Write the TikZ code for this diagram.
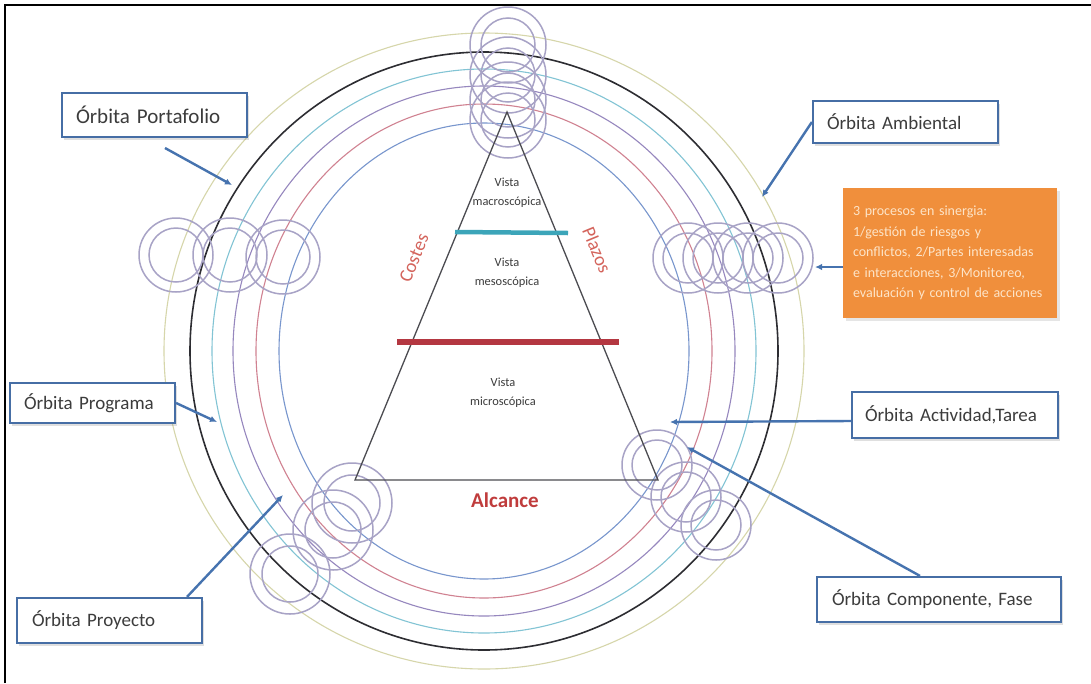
\documentclass[tikz,border=0pt]{standalone}
\usepackage{fontspec}
\setmainfont{Carlito}
\usetikzlibrary{arrows.meta,calc,shadows}

\definecolor{orbyellow}{RGB}{214,214,170}
\definecolor{orbblack}{RGB}{45,45,50}
\definecolor{orbcyan}{RGB}{130,196,212}
\definecolor{orbpurple}{RGB}{150,135,190}
\definecolor{orbred}{RGB}{208,130,145}
\definecolor{orbblue}{RGB}{120,150,205}
\definecolor{atomgray}{RGB}{168,163,198}
\definecolor{callblue}{RGB}{70,115,175}
\definecolor{boxblue}{RGB}{70,110,165}
\definecolor{labelgray}{RGB}{60,60,60}
\definecolor{procorange}{RGB}{240,143,60}
\definecolor{proctext}{RGB}{253,228,200}
\definecolor{barcyan}{RGB}{60,165,185}
\definecolor{barred}{RGB}{180,55,65}
\definecolor{sidered}{RGB}{212,100,92}
\definecolor{alcred}{RGB}{192,60,60}

\tikzset{
  orbit/.style={line width=1.1pt},
  atomline/.style={draw=atomgray, line width=1.5pt},
  orbitlabel/.style={draw=boxblue, line width=2.2pt, fill=white, text=labelgray,
    font=\fontsize{19}{22}\selectfont, align=left, inner xsep=14pt, inner ysep=0pt,
    drop shadow={shadow xshift=2pt, shadow yshift=-2.5pt, opacity=0.25}},
  procbox/.style={fill=procorange, text=proctext, font=\fontsize{14}{20.5}\selectfont,
    align=left, inner xsep=10pt, inner ysep=0pt,
    drop shadow={shadow xshift=2.5pt, shadow yshift=-3pt, opacity=0.2}},
  viewtext/.style={text=labelgray, align=center, font=\fontsize{12.4}{19}\selectfont},
  sidetext/.style={text=sidered, inner sep=0pt, font=\fontsize{19}{22}\selectfont},
  callout/.style={draw=callblue, line width=2.4pt, -{Latex[length=7pt,width=6.5pt]}}
}

\begin{document}
\begin{tikzpicture}[x=1pt,y=-1pt]
\useasboundingbox (0,0) rectangle (1091,683);
\fill[white] (0,0) rectangle (1091,683);

% frame
\draw[line width=2.6pt] (5,683) -- (5,5) -- (1091,5);

% concentric orbits
\coordinate (O) at (484,351);
\draw[orbit, orbyellow] (O) ellipse [x radius=320, y radius=318];
\draw[orbit, orbblack, line width=1.6pt] (O) ellipse [x radius=294, y radius=299];
\draw[orbit, orbcyan] (O) ellipse [x radius=272, y radius=282];
\draw[orbit, orbpurple] (O) ellipse [x radius=251, y radius=265];
\draw[orbit, orbred] (O) ellipse [x radius=228, y radius=247];
\draw[orbit, orbblue] (O) ellipse [x radius=205, y radius=228];

% ring clusters
\foreach \ax/\ay/\R/\r in {
  508/45/38/27, 508/75/38/27, 508/100/38/27, 508/120/38/27,
  176/255/37/27, 230/255/37/27, 283/257/37/27,
  688/258/35/25, 718/258/35/25, 748/258/35/25, 778/258/35/25,
  352/503/40/28, 333/530/40/28, 290/574/40/28,
  657/465/35/25, 686/497/35/25, 716/525/35/25}
{
  \draw[atomline] (\ax,\ay) circle [radius=\R];
  \draw[atomline] (\ax,\ay) circle [radius=\r];
}

% pyramid
\draw[line width=1.3pt, orbblack!85] (507,112) -- (355,480) -- (658,480) -- cycle;
\draw[line width=4.5pt, barcyan] (455,232) -- (568,233);
\draw[line width=5.5pt, barred] (397,342) -- (619,342);

\node[viewtext] (macro) at (507,193) {Vista\\macroscópica};
\node[viewtext] (meso) at (507,273) {Vista\\mesoscópica};
\node[viewtext] (micro) at (503,393) {Vista\\microscópica};
\node[sidetext, rotate=67.7] (costes) at (414,258) {Costes};
\node[sidetext, rotate=-67.6] (plazos) at (597,250) {Plazos};
\node[text=alcred, font=\fontsize{21}{24}\selectfont\bfseries] (alcance) at (505,500) {Alcance};

% labels
\node[orbitlabel, text width=157, minimum height=44, font=\fontsize{21}{24}\selectfont] (port) at (154.5,115) {Órbita Portafolio};
\node[orbitlabel, text width=157, minimum height=42] (amb) at (905.5,122) {Órbita Ambiental};
\node[orbitlabel, text width=137, minimum height=40] (prog) at (92.5,403) {Órbita Programa};
\node[orbitlabel, text width=155, minimum height=45, inner xsep=15pt] (proy) at (109.5,620.5) {Órbita Proyecto};
\node[orbitlabel, text width=180, minimum height=46, inner xsep=13pt] (act) at (955,415) {Órbita Actividad,Tarea};
\node[orbitlabel, text width=214, minimum height=45, inner xsep=15pt] (comp) at (939,599.5) {Órbita Componente, Fase};
\node[procbox, text width=194, minimum height=130] (proc) at (950,253)
  {3 procesos en sinergia:\\1/gestión de riesgos y\\conflictos, 2/Partes interesadas\\e interacciones, 3/Monitoreo,\\evaluación y control de acciones};

% connector ends
\coordinate (portstart) at (165,148);
\coordinate (portend) at (232,185);
\coordinate (ambend) at (762,197);
\coordinate (procend) at (815,267);
\coordinate (progend) at (217,422);
\coordinate (proyend) at (283,495);
\coordinate (actend) at (670,422);
\coordinate (compend) at (687,447);

\draw[callout] (portstart) -- (portend);
\draw[callout] (amb.west) -- (ambend);
\draw[callout] ($(proc.west)+(0,14)$) -- (procend);
\draw[callout] (prog.east) -- (progend);
\draw[callout] ($(proy.north)+(77.5,0)$) -- (proyend);
\draw[callout] ($(act.west)+(0,6)$) -- (actend);
\draw[callout] ($(comp.north)+(-19,0)$) -- (compend);
\end{tikzpicture}
\end{document}
